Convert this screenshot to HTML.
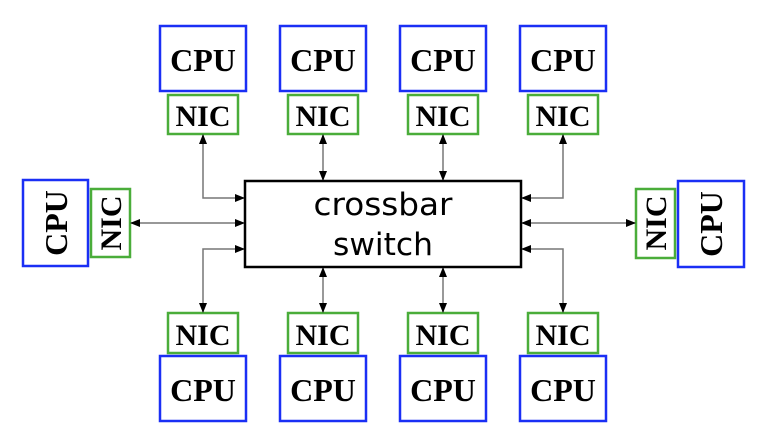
<!DOCTYPE html>
<html><head><meta charset="utf-8"><style>
html,body{margin:0;padding:0;background:#fff;}
svg{display:block;}
.cpu{fill:#fff;stroke:#1a2ff5;stroke-width:2.5;}
.nic{fill:#fff;stroke:#4aad3a;stroke-width:2.5;}
.t{font-family:"Liberation Serif","Times New Roman",serif;font-weight:bold;fill:#000;}
.l{stroke:#777;stroke-width:1.5;fill:none;}
</style></head><body>
<svg width="762" height="442" viewBox="0 0 762 442" xmlns="http://www.w3.org/2000/svg">
<defs>
<marker id="a" markerWidth="10" markerHeight="8" refX="9" refY="4" orient="auto-start-reverse" markerUnits="userSpaceOnUse">
<path d="M0,0 L10,4 L0,8 z" fill="#000"/></marker>
</defs>
<g>
<rect class="cpu" x="160" y="26" width="86" height="65"/><text class="t" x="203" y="71" font-size="32" text-anchor="middle">CPU</text>
<rect class="nic" x="168" y="95" width="70" height="39"/><text class="t" x="203" y="126" font-size="30" text-anchor="middle">NIC</text>
<rect class="cpu" x="280" y="26" width="86" height="65"/><text class="t" x="323" y="71" font-size="32" text-anchor="middle">CPU</text>
<rect class="nic" x="288" y="95" width="70" height="39"/><text class="t" x="323" y="126" font-size="30" text-anchor="middle">NIC</text>
<rect class="cpu" x="400" y="26" width="86" height="65"/><text class="t" x="443" y="71" font-size="32" text-anchor="middle">CPU</text>
<rect class="nic" x="408" y="95" width="70" height="39"/><text class="t" x="443" y="126" font-size="30" text-anchor="middle">NIC</text>
<rect class="cpu" x="520" y="26" width="86" height="65"/><text class="t" x="563" y="71" font-size="32" text-anchor="middle">CPU</text>
<rect class="nic" x="528" y="95" width="70" height="39"/><text class="t" x="563" y="126" font-size="30" text-anchor="middle">NIC</text>
</g>
<g>
<rect class="nic" x="168" y="313" width="70" height="40"/><text class="t" x="203" y="345" font-size="30" text-anchor="middle">NIC</text>
<rect class="cpu" x="160" y="356" width="86" height="65"/><text class="t" x="203" y="401" font-size="32" text-anchor="middle">CPU</text>
<rect class="nic" x="288" y="313" width="70" height="40"/><text class="t" x="323" y="345" font-size="30" text-anchor="middle">NIC</text>
<rect class="cpu" x="280" y="356" width="86" height="65"/><text class="t" x="323" y="401" font-size="32" text-anchor="middle">CPU</text>
<rect class="nic" x="408" y="313" width="70" height="40"/><text class="t" x="443" y="345" font-size="30" text-anchor="middle">NIC</text>
<rect class="cpu" x="400" y="356" width="86" height="65"/><text class="t" x="443" y="401" font-size="32" text-anchor="middle">CPU</text>
<rect class="nic" x="528" y="313" width="70" height="40"/><text class="t" x="563" y="345" font-size="30" text-anchor="middle">NIC</text>
<rect class="cpu" x="520" y="356" width="86" height="65"/><text class="t" x="563" y="401" font-size="32" text-anchor="middle">CPU</text>
</g>
<rect class="cpu" x="23" y="180" width="65" height="86"/>
<text class="t" font-size="32" text-anchor="middle" transform="translate(67,223) rotate(-90)">CPU</text>
<rect class="nic" x="91" y="189" width="39" height="68"/>
<text class="t" font-size="30" text-anchor="middle" transform="translate(121,223) rotate(-90)">NIC</text>
<rect class="nic" x="636" y="189" width="39" height="69"/>
<text class="t" font-size="30" text-anchor="middle" transform="translate(666,223) rotate(-90)">NIC</text>
<rect class="cpu" x="678" y="181" width="66" height="86"/>
<text class="t" font-size="32" text-anchor="middle" transform="translate(722,224) rotate(-90)">CPU</text>
<rect x="245" y="181" width="276" height="86" fill="#fff" stroke="#000" stroke-width="2.5"/>
<text x="383" y="215" font-family="'DejaVu Sans','Liberation Sans',sans-serif" font-size="31" text-anchor="middle" textLength="139" lengthAdjust="spacingAndGlyphs" fill="#000">crossbar</text>
<text x="383" y="255" font-family="'DejaVu Sans','Liberation Sans',sans-serif" font-size="31" text-anchor="middle" textLength="100" lengthAdjust="spacingAndGlyphs" fill="#000">switch</text>
<polyline class="l" points="203,135 203,198 244,198" marker-start="url(#a)" marker-end="url(#a)"/>
<line class="l" x1="323" y1="135" x2="323" y2="180" marker-start="url(#a)" marker-end="url(#a)"/>
<line class="l" x1="443" y1="135" x2="443" y2="180" marker-start="url(#a)" marker-end="url(#a)"/>
<polyline class="l" points="563,135 563,198 522,198" marker-start="url(#a)" marker-end="url(#a)"/>
<line class="l" x1="131" y1="223" x2="244" y2="223" marker-start="url(#a)" marker-end="url(#a)"/>
<line class="l" x1="522" y1="223" x2="635" y2="223" marker-start="url(#a)" marker-end="url(#a)"/>
<polyline class="l" points="244,249 203,249 203,312" marker-start="url(#a)" marker-end="url(#a)"/>
<line class="l" x1="323" y1="268" x2="323" y2="312" marker-start="url(#a)" marker-end="url(#a)"/>
<line class="l" x1="443" y1="268" x2="443" y2="312" marker-start="url(#a)" marker-end="url(#a)"/>
<polyline class="l" points="522,249 563,249 563,312" marker-start="url(#a)" marker-end="url(#a)"/>
</svg>
</body></html>
